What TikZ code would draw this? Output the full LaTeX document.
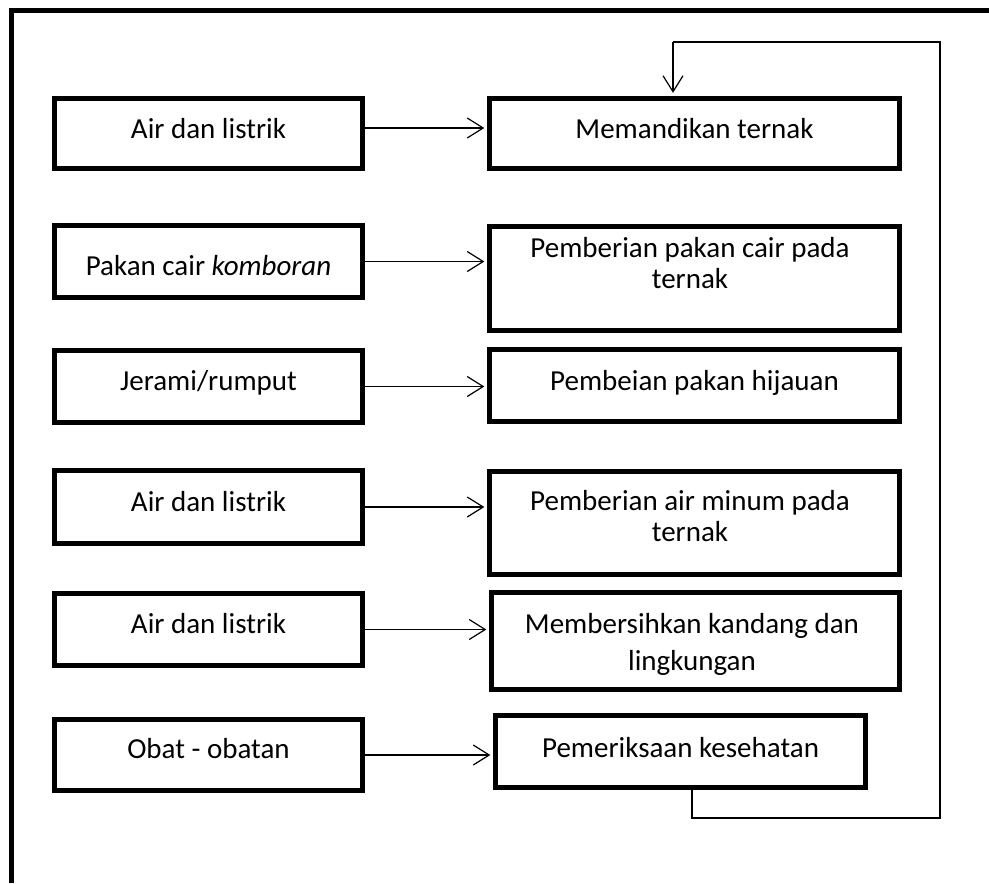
\documentclass[tikz,border=0pt]{standalone}
\usepackage{fontspec}
\setmainfont{Carlito}
\usetikzlibrary{arrows.meta}
\begin{document}
\begin{tikzpicture}[x=0.75pt,y=-0.75pt,
  box/.style={draw,line width=3.75pt,inner sep=0pt},
  txt/.style={anchor=base,inner sep=0pt,font=\fontsize{21.75pt}{23.5pt}\selectfont},
  conn/.style={line width=0.9pt},
  arr/.style={conn,-{Straight Barb[length=12pt,width=15pt]},shorten >=2pt}]
\useasboundingbox (0,0) rectangle (989,883);
% outer frame (top and left only)
\draw[line width=3.75pt] (11,883) -- (11,10.5) -- (989,10.5);
% left column
\node[box,minimum width=231pt,minimum height=52.5pt] (l1) at (208.5,133) {};
\node[box,minimum width=231pt,minimum height=54pt] (l2) at (208.5,261.5) {};
\node[box,minimum width=231pt,minimum height=54pt] (l3) at (208.5,386.5) {};
\node[box,minimum width=231pt,minimum height=54.75pt] (l4) at (208.5,507) {};
\node[box,minimum width=231pt,minimum height=54pt] (l5) at (208.5,629.5) {};
\node[box,minimum width=231pt,minimum height=53.25pt] (l6) at (208.5,755) {};
% right column
\node[box,minimum width=307.5pt,minimum height=52.5pt] (r1) at (694.5,133) {};
\node[box,minimum width=307.5pt,minimum height=78pt] (r2) at (694.5,278.5) {};
\node[box,minimum width=307.5pt,minimum height=54pt] (r3) at (694.5,385.5) {};
\node[box,minimum width=307.5pt,minimum height=77.6pt] (r4) at (694.5,523) {};
\node[box,minimum width=306pt,minimum height=73.1pt] (r5) at (695.5,641) {};
\node[box,minimum width=277.5pt,minimum height=54pt] (r6) at (680.5,751.5) {};
% texts
\node[txt] (t1) at (208.5,138) {Air dan listrik};
\node[txt] (t2) at (208.5,275) {Pakan cair \textit{komboran}};
\node[txt] (t3) at (208.5,390) {Jerami/rumput};
\node[txt] (t4) at (208.5,511) {Air dan listrik};
\node[txt] (t5) at (208.5,633) {Air dan listrik};
\node[txt] (t6) at (208.5,758) {Obat - obatan};
\node[txt] (u1) at (694.5,138) {Memandikan ternak};
\node[txt] (u2) at (690,257) {\begin{tabular}[t]{@{}c@{}}Pemberian pakan cair pada\\ternak\end{tabular}};
\node[txt] (u3) at (694.5,390) {Pembeian pakan hijauan};
\node[txt] (u4) at (690,510) {\begin{tabular}[t]{@{}c@{}}Pemberian air minum pada\\ternak\end{tabular}};
\node[txt,font=\fontsize{21.75pt}{27.75pt}\selectfont] (u5) at (692,633) {\begin{tabular}[t]{@{}c@{}}Membersihkan kandang dan\\lingkungan\end{tabular}};
\node[txt] (u6) at (680.5,757) {Pemeriksaan kesehatan};
% connectors
\draw[arr] ([yshift=3.75pt]l1.east) -- ([yshift=3.75pt]l1.east -| r1.west);
\draw[arr] (l2.east) -- (l2.east -| r2.west);
\draw[arr] (l3.east) -- (l3.east -| r3.west);
\draw[arr] (l4.east) -- (l4.east -| r4.west);
\draw[arr] (l5.east) -- (l5.east -| r5.west);
\draw[arr] (l6.east) -- (l6.east -| r6.west);
% feedback loop
\coordinate (fb1) at (692,818);
\coordinate (fb2) at (940,818);
\coordinate (fb3) at (940,42);
\coordinate (fb4) at (673,42);
\draw[conn] (r6.south -| fb1) -- (fb1) -- (fb2) -- (fb3) -- (fb4);
\draw[arr] (fb4) -- (r1.north -| fb4);
\end{tikzpicture}
\end{document}
